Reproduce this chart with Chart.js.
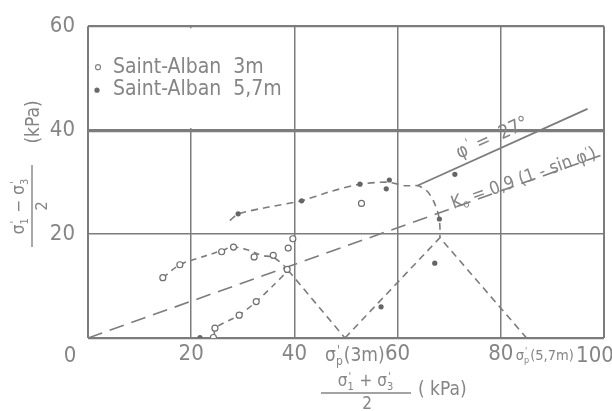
<!DOCTYPE html>
<html>
<head>
<meta charset="utf-8">
<script src="https://cdn.jsdelivr.net/npm/chart.js@4.4.0/dist/chart.umd.min.js"></script>
<style>
html,body{margin:0;padding:0;background:#fff}
#c{display:block}
</style>
</head>
<body>
<canvas id="c" width="612" height="411"></canvas>
<script>
// Points : Saint-Alban 3m (cercles ouverts) et 5,7m (points pleins)
const pts3m = [[14.5,11.6],[17.8,14.1],[25.9,16.6],[28.2,17.5],[32.2,15.6],[35.9,15.9],
               [38.8,17.3],[39.7,19.1],[38.6,13.2],[24.3,0.1],[24.6,1.9],[29.3,4.4],[32.6,7.0],[53.0,25.9]];
const pts57 = [[21.7,0.1],[29.1,23.9],[41.4,26.4],[52.7,29.6],[57.8,28.7],[58.4,30.4],
               [71.1,31.5],[68.1,22.9],[67.2,14.4],[56.8,6.0]];

// Chemins de contrainte (tiretés)
const chemin3mHaut = [[14.5,11.6],[17.8,14.1],[21.5,15.4],[25.9,16.8],[28.1,17.5],[30.8,17.0],
                      [33.7,15.9],[35.9,15.5],[37.9,14.0],[38.8,13.0]];
const chemin3mBas = [[24.5,0.6],[24.6,1.9],[29.3,4.4],[32.6,7.0],[35.8,10.0],[38.8,13.0]];
const chemin57 = [[27.5,22.6],[29.1,23.9],[35.0,25.2],[41.4,26.4],[47.0,28.2],[52.7,29.6],
                  [58.0,30.0],[61.5,29.3],[64.0,29.3],[65.8,28.2],[67.0,26.3],[67.9,23.8],
                  [68.2,21.5],[68.2,19.3]];

// Droites de construction
const droiteSp3m = [[38.8,13.0],[49.8,0]];
const droiteSp57 = [[49.8,0],[68.2,19.3],[85.0,0]];
const droiteK0 = [[0,0],[99.5,35.2]];
const droitePhi = [[63.8,29.3],[96.8,44.1]];

const xTicks = [0,20,40,60,80,100];
const yTicks = [0,20,40,60];

const GRIS = '#7c7c7c';
const TEXTE = '#858585';
const F = '"DejaVu Sans Condensed","DejaVu Sans",sans-serif';

const toXY = a => a.map(([x, y]) => ({x, y}));

function courbe(data, dash, tension, width) {
  return {data: toXY(data), showLine: true, pointRadius: 0, borderColor: GRIS,
          borderWidth: width || 1.6, borderDash: dash, tension: tension, fill: false};
}

// texte avec sigma prime + indice superposés
function suite(ctx, items, x, y, size, draw) {
  let cx = x;
  for (const it of items) {
    ctx.font = size + 'px ' + F;
    if (typeof it === 'string') {
      if (draw) ctx.fillText(it, cx, y);
      cx += ctx.measureText(it).width;
    } else {
      if (draw) ctx.fillText(it.g, cx, y);
      cx += ctx.measureText(it.g).width;
      const s = Math.round(size * 0.62);
      ctx.font = s + 'px ' + F;
      if (draw) {
        ctx.fillText("'", cx + 1, y - size * 0.38);
        if (it.sub) ctx.fillText(it.sub, cx, y + size * 0.22);
      }
      cx += Math.max(ctx.measureText("'").width + 1, it.sub ? ctx.measureText(it.sub).width : 0) + 1;
    }
  }
  return cx - x;
}
function suiteCentre(ctx, items, cx, y, size) {
  const w = suite(ctx, items, 0, 0, size, false);
  suite(ctx, items, cx - w / 2, y, size, true);
  return w;
}

const decor = {
  id: 'decor',
  beforeDraw(chart) {
    const ctx = chart.ctx;
    ctx.save();
    ctx.fillStyle = '#fff';
    ctx.fillRect(0, 0, chart.width, chart.height);
    ctx.restore();
  },
  beforeDatasetsDraw(chart) {
    // pas de verticale à 20 dans le cadre de la légende
    const {x, y} = chart.scales;
    const ctx = chart.ctx;
    ctx.save();
    ctx.fillStyle = '#fff';
    ctx.fillRect(x.getPixelForValue(0) + 2, y.getPixelForValue(60) + 2,
                 x.getPixelForValue(40) - x.getPixelForValue(0) - 4,
                 y.getPixelForValue(40) - y.getPixelForValue(60) - 4);
    ctx.restore();
  },
  afterDraw(chart) {
    const {x, y} = chart.scales;
    const ctx = chart.ctx;
    const ca = chart.chartArea;
    ctx.save();
    ctx.fillStyle = TEXTE;
    ctx.strokeStyle = TEXTE;
    ctx.textBaseline = 'alphabetic';

    // légende
    ctx.font = '21px ' + F;
    ctx.textAlign = 'left';
    ctx.fillText('Saint-Alban  3m', ca.left + 25, ca.top + 47);
    ctx.fillText('Saint-Alban  5,7m', ca.left + 25, ca.top + 69);
    ctx.lineWidth = 1.2;
    ctx.beginPath(); ctx.arc(ca.left + 10, ca.top + 41, 2.5, 0, Math.PI * 2); ctx.stroke();
    ctx.fillStyle = '#6a6a6a';
    ctx.beginPath(); ctx.arc(ca.left + 9, ca.top + 64, 2.6, 0, Math.PI * 2); ctx.fill();
    ctx.fillStyle = TEXTE;

    // origine et 100 (hors cadre comme sur l'original)
    ctx.font = '22px ' + F;
    ctx.textAlign = 'center';
    ctx.fillText('0', ca.left - 18, ca.bottom + 24);
    ctx.fillText('100', ca.right - 9, ca.bottom + 24);

    // sigma'p sous l'axe
    ctx.textAlign = 'left';
    const wa = suite(ctx, [{g: 'σ', sub: 'p'}, '(3m)'], 0, 0, 19, false);
    suite(ctx, [{g: 'σ', sub: 'p'}, '(3m)'], x.getPixelForValue(60) - 13 - wa, ca.bottom + 23, 19, true);
    suite(ctx, [{g: 'σ', sub: 'p'}, '(5,7m)'], x.getPixelForValue(80) + 15, ca.bottom + 22, 14.5, true);

    // titre axe x
    const cxT = 366;
    suiteCentre(ctx, [{g: 'σ', sub: '1'}, ' + ', {g: 'σ', sub: '3'}], cxT, ca.bottom + 48, 17);
    ctx.lineWidth = 1.4;
    ctx.beginPath(); ctx.moveTo(cxT - 45, ca.bottom + 55); ctx.lineTo(cxT + 45, ca.bottom + 55); ctx.stroke();
    ctx.font = '17px ' + F;
    ctx.textAlign = 'center';
    ctx.fillText('2', cxT + 1, ca.bottom + 71);
    ctx.textAlign = 'left';
    ctx.font = '19px ' + F;
    ctx.fillText('( kPa)', cxT + 52, ca.bottom + 57);

    // titre axe y (tourné)
    ctx.save();
    ctx.translate(32, 206);
    ctx.rotate(-Math.PI / 2);
    suiteCentre(ctx, [{g: 'σ', sub: '1'}, ' − ', {g: 'σ', sub: '3'}], 0, -8, 17);
    ctx.beginPath(); ctx.moveTo(-41, 0); ctx.lineTo(41, 0); ctx.stroke();
    ctx.font = '16px ' + F;
    ctx.textAlign = 'center';
    ctx.fillText('2', 0, 15);
    ctx.font = '19px ' + F;
    ctx.fillText('(kPa)', 84, 7);
    ctx.restore();

    // annotations le long des droites
    const angle = d => Math.atan2(y.getPixelForValue(d[1][1]) - y.getPixelForValue(d[0][1]),
                                  x.getPixelForValue(d[1][0]) - x.getPixelForValue(d[0][0]));
    ctx.save();
    ctx.translate(x.getPixelForValue(78.3), y.getPixelForValue(38.6));
    ctx.rotate(angle(droitePhi));
    ctx.textAlign = 'left';
    const wp = suite(ctx, [{g: 'φ'}, ' =  27°'], 0, 0, 19, false);
    suite(ctx, [{g: 'φ'}, ' =  27°'], -wp / 2, 6, 19, true);
    ctx.restore();

    ctx.save();
    ctx.translate(x.getPixelForValue(84.5), y.getPixelForValue(30.9));
    ctx.rotate(angle(droiteK0));
    ctx.font = '18px ' + F;
    const w1 = ctx.measureText('K').width;
    ctx.font = '11px ' + F;
    const w2 = ctx.measureText('o').width;
    ctx.font = '18px ' + F;
    const w3 = ctx.measureText(' = 0,9 (1 - sin φ').width;
    const w4 = ctx.measureText("')").width;
    let px = -(w1 + w2 + w3 + w4) / 2;
    ctx.fillText('K', px, 6); px += w1;
    ctx.font = '11px ' + F; ctx.fillText('o', px, 9); px += w2;
    ctx.font = '18px ' + F; ctx.fillText(' = 0,9 (1 - sin φ', px, 6); px += w3;
    ctx.font = '11px ' + F; ctx.fillText("'", px, 0);
    ctx.font = '18px ' + F; ctx.fillText(')', px + 3, 6);
    ctx.restore();

    ctx.restore();
  }
};

new Chart(document.getElementById('c'), {
  type: 'scatter',
  data: {
    datasets: [
      {label: 'Saint-Alban 3m', data: toXY(pts3m), pointRadius: 3, pointBorderWidth: 1.2,
       pointBackgroundColor: '#fff', pointBorderColor: '#6e6e6e', showLine: false},
      {label: 'Saint-Alban 5,7m', data: toXY(pts57), pointRadius: 2.6, pointBorderWidth: 0,
       pointBackgroundColor: '#666', pointBorderColor: '#666', showLine: false},
      courbe(chemin3mHaut, [6, 5], 0.35),
      courbe(chemin3mBas, [6, 5], 0.3),
      courbe(chemin57, [7, 5], 0.2),
      courbe(droiteSp3m, [7, 5], 0),
      courbe(droiteSp57, [7, 5], 0),
      courbe(droiteK0, [15, 8], 0),
      courbe(droitePhi, [], 0, 1.8)
    ]
  },
  options: {
    responsive: false,
    animation: false,
    devicePixelRatio: 1,
    layout: {padding: {left: 0, right: 8, top: 25, bottom: 0}},
    plugins: {legend: {display: false}, tooltip: {enabled: false}},
    scales: {
      x: {
        type: 'linear', min: 0, max: 100,
        afterFit: s => { s.height = 73; },
        afterBuildTicks: s => { s.ticks = xTicks.map(v => ({value: v})); },
        ticks: {callback: v => (v === 0 || v === 100) ? '' : String(v), color: TEXTE, padding: 3,
                font: {family: F, size: 22}, autoSkip: false, maxRotation: 0},
        grid: {color: GRIS, lineWidth: c => (c.tick && (c.tick.value === 0 || c.tick.value === 100)) ? 2 : 1.5,
               drawTicks: false},
        border: {display: false}
      },
      y: {
        min: 0, max: 60,
        afterFit: s => { s.width = 88; },
        afterBuildTicks: s => { s.ticks = yTicks.map(v => ({value: v})); },
        ticks: {callback: v => v === 0 ? '' : String(v), color: TEXTE, padding: 13,
                font: {family: F, size: 22}},
        grid: {color: GRIS, lineWidth: c => c.tick && c.tick.value === 40 ? 3.2 : (c.tick && (c.tick.value === 0 || c.tick.value === 60) ? 2.2 : 1.5),
               drawTicks: false},
        border: {display: false}
      }
    }
  },
  plugins: [decor]
});
</script>
</body>
</html>
